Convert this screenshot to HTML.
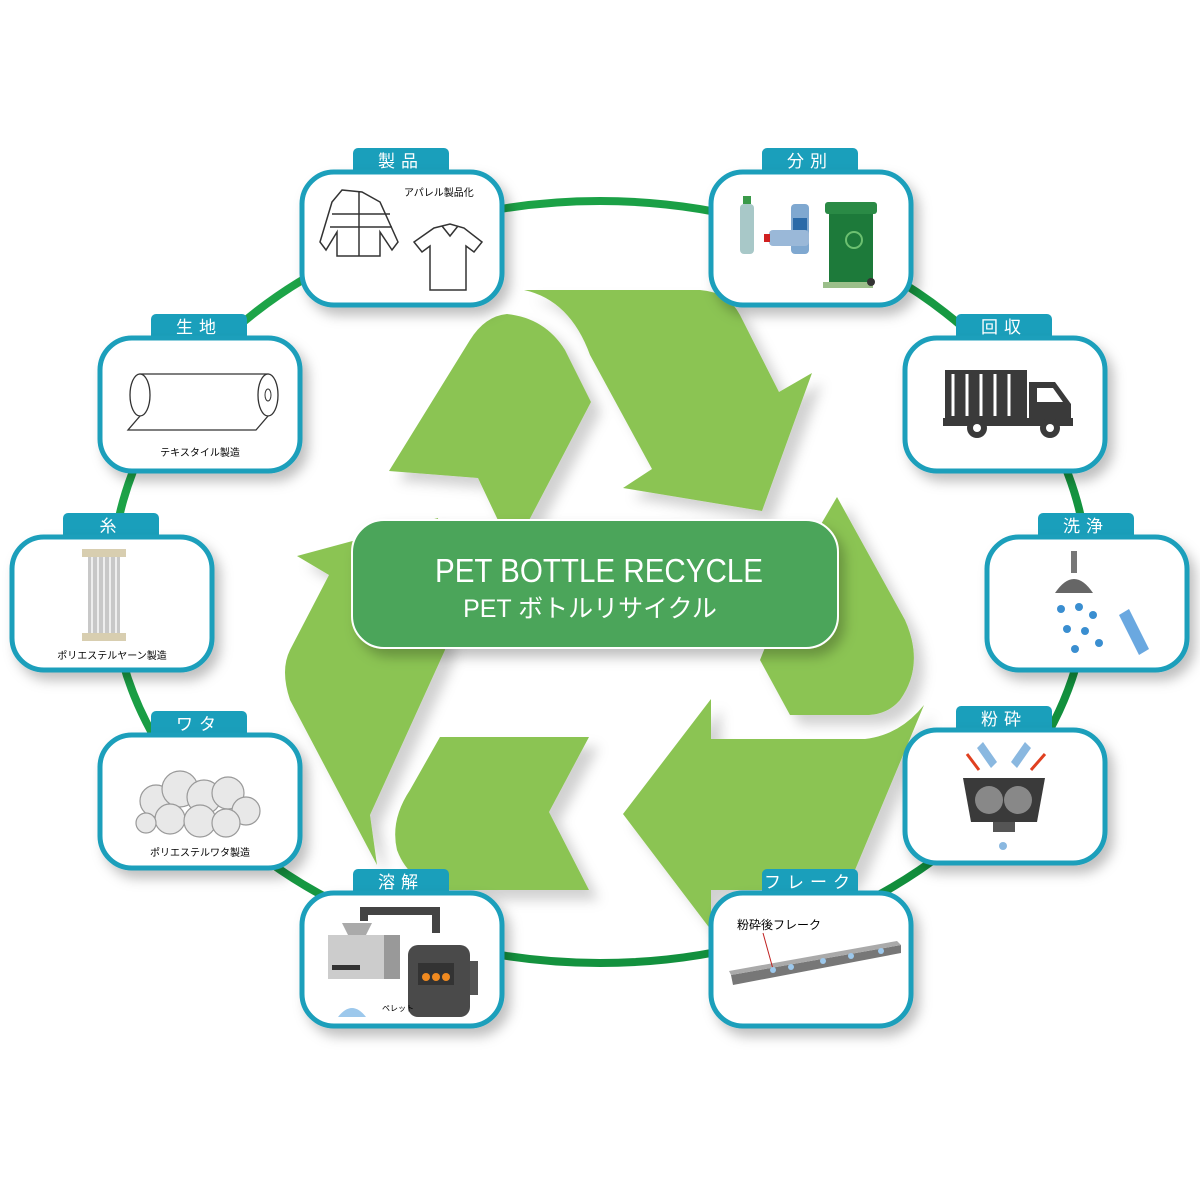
<!DOCTYPE html>
<html><head><meta charset="utf-8"><style>
html,body{margin:0;padding:0;background:#fff;width:1200px;height:1200px;overflow:hidden}
svg{display:block}
text{font-family:"Liberation Sans","Noto Sans CJK JP",sans-serif}
</style></head><body>
<svg width="1200" height="1200" viewBox="0 0 1200 1200" xmlns="http://www.w3.org/2000/svg">
<defs>
<filter id="sh" x="-20%" y="-20%" width="150%" height="150%"><feDropShadow dx="10" dy="10" stdDeviation="6" flood-color="#000" flood-opacity="0.18"/></filter>
<filter id="sh2" x="-20%" y="-20%" width="150%" height="150%"><feDropShadow dx="6" dy="8" stdDeviation="6" flood-color="#000" flood-opacity="0.25"/></filter>
<linearGradient id="rg" x1="0" y1="0" x2="1" y2="1"><stop offset="0" stop-color="#1fa84a"/><stop offset="1" stop-color="#0f8a3a"/></linearGradient>
</defs>
<ellipse cx="600" cy="582" rx="488" ry="381" fill="none" stroke="url(#rg)" stroke-width="8"/>
<g fill="#8bc453" filter="url(#sh)">
<path d="M507,314 Q545,318 565,350 L591,402 L525,528 L505,535 L478,478 L389,471 L470,340 Q485,316 507,314 Z"/>
<path d="M524,290 L700,290 Q728,292 740,315 L779,392 L812,373 L762,511 L623,488 L652,469 L590,355 Q570,300 524,290 Z"/>
<path d="M837,497 L905,620 Q925,665 900,700 Q888,714 869,715 L790,715 L760,660 L800,560 Z"/>
<path d="M924,705 Q900,735 865,739 L711,739 L711,699 L623,814 L711,930 L711,890 L823,890 Q845,888 855,870 Z"/>
<path d="M440,737 L589,737 L549,812 L589,890 L450,890 Q410,885 397,850 Q390,820 410,790 Z"/>
<path d="M297,556 L438,518 L445,650 L370,815 L377,865 L290,700 Q280,670 290,650 L329,575 Z"/>
</g>
<rect x="352" y="520" width="486" height="128" rx="32" fill="#4ba55a" stroke="#fff" stroke-width="2" filter="url(#sh2)"/>
<text x="435" y="582" fill="#fff" font-size="33" textLength="328" lengthAdjust="spacingAndGlyphs">PET BOTTLE RECYCLE</text>
<text x="590" y="617" text-anchor="middle" fill="#fff" font-size="25">PET ボトルリサイクル</text>

<g transform="translate(302,172)">
<rect x="51" y="-24" width="96" height="30" rx="5" fill="#1a9fbb"/>
<rect x="0" y="0" width="200" height="133" rx="32" fill="#fff" stroke="#1a9fbb" stroke-width="5" filter="url(#sh2)"/>
<text x="99" y="-5" text-anchor="middle" fill="#fff" font-size="17" letter-spacing="6">製品</text>
<text x="102" y="24" font-size="10">アパレル製品化</text>
<g fill="none" stroke="#333" stroke-width="1.5"><path d="M40,18 L60,20 L78,30 L96,70 L90,78 L78,60 L78,84 L35,84 L35,60 L24,78 L18,70 L30,30 Z"/><path d="M30,42 H88 M28,55 H90 M57,20 V84"/>
<path d="M132,56 L148,52 L162,56 L180,70 L172,80 L164,74 L164,118 L128,118 L128,74 L120,80 L112,70 Z"/><path d="M140,54 L148,64 L156,54"/></g>
</g>

<g transform="translate(711,172)">
<rect x="51" y="-24" width="96" height="30" rx="5" fill="#1a9fbb"/>
<rect x="0" y="0" width="200" height="133" rx="32" fill="#fff" stroke="#1a9fbb" stroke-width="5" filter="url(#sh2)"/>
<text x="99" y="-5" text-anchor="middle" fill="#fff" font-size="17" letter-spacing="6">分別</text>
<rect x="29" y="32" width="14" height="50" rx="4" fill="#a8c8c8"/><rect x="32" y="24" width="8" height="8" fill="#3a9a4a"/>
<rect x="80" y="32" width="18" height="50" rx="4" fill="#7fa8d0"/><rect x="82" y="46" width="14" height="18" fill="#2a6aa8"/>
<rect x="58" y="58" width="40" height="16" rx="4" fill="#9ab8d8"/><rect x="53" y="62" width="6" height="8" fill="#d02020"/>
<rect x="118" y="40" width="44" height="72" fill="#1d7a3a"/><rect x="114" y="30" width="52" height="12" rx="3" fill="#2a8a45"/><circle cx="143" cy="68" r="8" fill="none" stroke="#6cc070" stroke-width="2"/><rect x="112" y="110" width="50" height="6" fill="#9bbf8a"/><circle cx="160" cy="110" r="4" fill="#333"/>
</g>

<g transform="translate(905,338)">
<rect x="51" y="-24" width="96" height="30" rx="5" fill="#1a9fbb"/>
<rect x="0" y="0" width="200" height="133" rx="32" fill="#fff" stroke="#1a9fbb" stroke-width="5" filter="url(#sh2)"/>
<text x="99" y="-5" text-anchor="middle" fill="#fff" font-size="17" letter-spacing="6">回収</text>
<path d="M40,32 L122,32 L122,82 L40,82 Z" fill="#3a3a3a"/><path d="M48,36 V78 M62,36 V78 M76,36 V78 M90,36 V78 M104,36 V78" stroke="#fff" stroke-width="3"/>
<path d="M124,44 L150,44 L166,66 L166,84 L124,84 Z" fill="#3a3a3a"/><path d="M132,50 L148,50 L158,64 L132,64 Z" fill="#fff"/>
<rect x="38" y="80" width="130" height="8" fill="#3a3a3a"/>
<circle cx="72" cy="90" r="10" fill="#3a3a3a"/><circle cx="72" cy="90" r="4" fill="#fff"/><circle cx="145" cy="90" r="10" fill="#3a3a3a"/><circle cx="145" cy="90" r="4" fill="#fff"/>
</g>

<g transform="translate(987,537)">
<rect x="51" y="-24" width="96" height="30" rx="5" fill="#1a9fbb"/>
<rect x="0" y="0" width="200" height="133" rx="32" fill="#fff" stroke="#1a9fbb" stroke-width="5" filter="url(#sh2)"/>
<text x="99" y="-5" text-anchor="middle" fill="#fff" font-size="17" letter-spacing="6">洗浄</text>
<rect x="84" y="14" width="6" height="22" fill="#777"/><path d="M68,56 Q87,28 106,56 Z" fill="#666"/>
<g fill="#3a8ed0"><circle cx="74" cy="72" r="4"/><circle cx="92" cy="70" r="4"/><circle cx="106" cy="78" r="4"/><circle cx="80" cy="92" r="4"/><circle cx="98" cy="94" r="4"/><circle cx="88" cy="112" r="4"/><circle cx="112" cy="106" r="4"/></g>
<path d="M132,78 L142,72 L162,112 L152,118 Z" fill="#6aa8e0"/>
</g>

<g transform="translate(905,730)">
<rect x="51" y="-24" width="96" height="30" rx="5" fill="#1a9fbb"/>
<rect x="0" y="0" width="200" height="133" rx="32" fill="#fff" stroke="#1a9fbb" stroke-width="5" filter="url(#sh2)"/>
<text x="99" y="-5" text-anchor="middle" fill="#fff" font-size="17" letter-spacing="6">粉砕</text>
<path d="M58,48 L140,48 L132,92 L66,92 Z" fill="#3a3a3a"/><circle cx="84" cy="70" r="14" fill="#888"/><circle cx="113" cy="70" r="14" fill="#888"/>
<rect x="88" y="92" width="22" height="10" fill="#555"/>
<path d="M78,12 L92,32 L86,38 L72,18 Z M120,12 L106,32 L112,38 L126,18 Z" fill="#8ab8e0"/>
<path d="M62,24 L74,40 M140,24 L126,40" stroke="#e04020" stroke-width="3"/>
<circle cx="98" cy="116" r="4" fill="#8ab8e0"/>
</g>

<g transform="translate(711,893)">
<rect x="51" y="-24" width="96" height="30" rx="5" fill="#1a9fbb"/>
<rect x="0" y="0" width="200" height="133" rx="32" fill="#fff" stroke="#1a9fbb" stroke-width="5" filter="url(#sh2)"/>
<text x="99" y="-5" text-anchor="middle" fill="#fff" font-size="17" letter-spacing="6">フレーク</text>
<text x="26" y="36" font-size="12">粉砕後フレーク</text>
<path d="M20,82 L190,52 L190,60 L22,92 Z" fill="#777"/><path d="M20,82 L190,52 L186,48 L18,78 Z" fill="#aaa"/>
<path d="M52,40 L62,76" stroke="#c02020" stroke-width="1"/>
<g fill="#9cc8ec"><circle cx="62" cy="77" r="3"/><circle cx="80" cy="74" r="3"/><circle cx="112" cy="68" r="3"/><circle cx="140" cy="63" r="3"/><circle cx="170" cy="58" r="3"/></g>
</g>

<g transform="translate(302,893)">
<rect x="51" y="-24" width="96" height="30" rx="5" fill="#1a9fbb"/>
<rect x="0" y="0" width="200" height="133" rx="32" fill="#fff" stroke="#1a9fbb" stroke-width="5" filter="url(#sh2)"/>
<text x="99" y="-5" text-anchor="middle" fill="#fff" font-size="17" letter-spacing="6">溶解</text>
<path d="M62,28 V18 H134 V40" fill="none" stroke="#444" stroke-width="8"/>
<rect x="26" y="42" width="56" height="44" fill="#ccc"/><rect x="82" y="42" width="16" height="44" fill="#999"/><path d="M40,30 L70,30 L64,42 L46,42 Z" fill="#aaa"/>
<rect x="30" y="72" width="28" height="5" fill="#333"/>
<rect x="106" y="52" width="62" height="72" rx="10" fill="#4a4a4a"/><rect x="116" y="70" width="36" height="22" fill="#333"/>
<g fill="#f08a20"><circle cx="124" cy="84" r="4"/><circle cx="134" cy="84" r="4"/><circle cx="144" cy="84" r="4"/></g>
<rect x="168" y="68" width="8" height="34" fill="#555"/>
<path d="M36,124 Q50,106 64,124 Z" fill="#9cc8ec"/><text x="80" y="118" font-size="8">ペレット</text>
</g>

<g transform="translate(100,735)">
<rect x="51" y="-24" width="96" height="30" rx="5" fill="#1a9fbb"/>
<rect x="0" y="0" width="200" height="133" rx="32" fill="#fff" stroke="#1a9fbb" stroke-width="5" filter="url(#sh2)"/>
<text x="99" y="-5" text-anchor="middle" fill="#fff" font-size="17" letter-spacing="6">ワタ</text>
<g fill="#e8e8e8" stroke="#999" stroke-width="1.2"><circle cx="56" cy="66" r="16"/><circle cx="80" cy="54" r="18"/><circle cx="104" cy="62" r="17"/><circle cx="128" cy="58" r="16"/><circle cx="146" cy="76" r="14"/><circle cx="70" cy="84" r="15"/><circle cx="100" cy="86" r="16"/><circle cx="126" cy="88" r="14"/><circle cx="46" cy="88" r="10"/></g>
<text x="100" y="121" text-anchor="middle" font-size="10">ポリエステルワタ製造</text>
</g>

<g transform="translate(12,537)">
<rect x="51" y="-24" width="96" height="30" rx="5" fill="#1a9fbb"/>
<rect x="0" y="0" width="200" height="133" rx="32" fill="#fff" stroke="#1a9fbb" stroke-width="5" filter="url(#sh2)"/>
<text x="99" y="-5" text-anchor="middle" fill="#fff" font-size="17" letter-spacing="6">糸</text>
<rect x="70" y="12" width="44" height="8" fill="#d8ceb0"/><rect x="70" y="96" width="44" height="8" fill="#d8ceb0"/>
<rect x="76" y="20" width="32" height="76" fill="#c8c8c8"/><path d="M80,20 V96 M86,20 V96 M92,20 V96 M98,20 V96 M104,20 V96" stroke="#eee" stroke-width="2"/>
<text x="100" y="122" text-anchor="middle" font-size="10">ポリエステルヤーン製造</text>
</g>

<g transform="translate(100,338)">
<rect x="51" y="-24" width="96" height="30" rx="5" fill="#1a9fbb"/>
<rect x="0" y="0" width="200" height="133" rx="32" fill="#fff" stroke="#1a9fbb" stroke-width="5" filter="url(#sh2)"/>
<text x="99" y="-5" text-anchor="middle" fill="#fff" font-size="17" letter-spacing="6">生地</text>
<path d="M40,36 H168 V78 L156,92 H28 L40,78 Z" fill="#fff" stroke="#333" stroke-width="1.3"/>
<ellipse cx="40" cy="57" rx="10" ry="21" fill="#fff" stroke="#333" stroke-width="1.3"/>
<ellipse cx="168" cy="57" rx="10" ry="21" fill="#fff" stroke="#333" stroke-width="1.3"/><ellipse cx="168" cy="57" rx="3" ry="6" fill="#fff" stroke="#333"/>
<text x="100" y="118" text-anchor="middle" font-size="10">テキスタイル製造</text>
</g>
</svg>
</body></html>
